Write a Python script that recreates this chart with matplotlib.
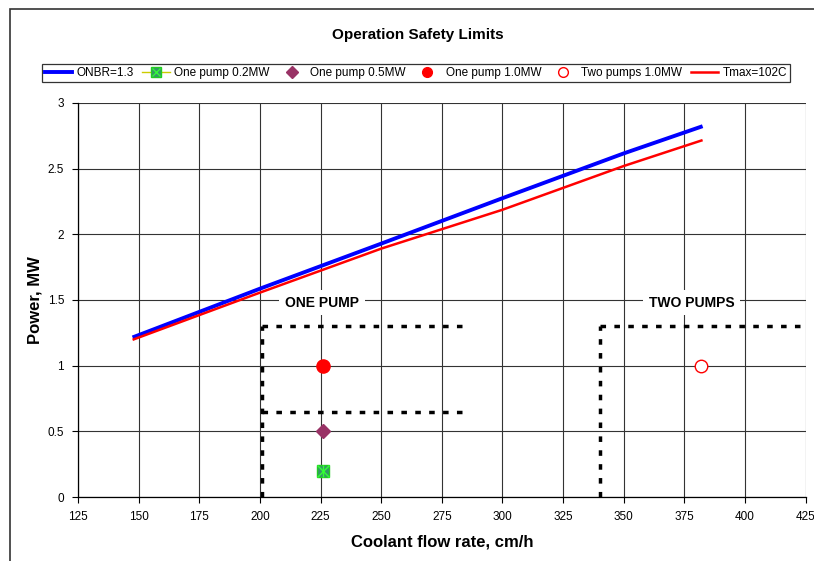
import matplotlib
matplotlib.use("Agg")
import matplotlib.pyplot as plt
from matplotlib.patches import Rectangle
from matplotlib.legend_handler import HandlerTuple
from matplotlib.lines import Line2D

plt.rcParams['font.family'] = ['Liberation Sans', 'DejaVu Sans']

# Data
onbr_x = [147.5, 200, 250, 300, 350, 382.5]
onbr_y = [1.215, 1.586, 1.929, 2.275, 2.616, 2.823]
tmax_x = [147.5, 200, 250, 300, 350, 382.5]
tmax_y = [1.197, 1.556, 1.891, 2.187, 2.520, 2.717]
pump02_x, pump02_y = [226], [0.2]
pump05_x, pump05_y = [226], [0.5]
pump10_x, pump10_y = [226], [1.0]
two10_x, two10_y = [382], [1.0]

one_pump_vx = [201, 201]
one_pump_vy = [0, 1.3]
one_pump_h1x = [201, 284]
one_pump_h1y = [1.3, 1.3]
one_pump_h2x = [201, 284]
one_pump_h2y = [0.65, 0.65]
two_pump_vx = [340, 340]
two_pump_vy = [0, 1.3]
two_pump_hx = [340, 425]
two_pump_hy = [1.3, 1.3]

xticks = list(range(125, 426, 25))
yticks = [0, 0.5, 1, 1.5, 2, 2.5, 3]
ytick_labels = ['0', '0.5', '1', '1.5', '2', '2.5', '3']

fig = plt.figure(figsize=(8.14, 5.61), dpi=100)
ax = fig.add_axes([0.0958, 0.114, 0.894, 0.7025])

# figure border (left and top visible)
fig.patches.append(Rectangle((10/814, -0.1), 1.2, (561-9)/561 + 0.1, transform=fig.transFigure,
                             fill=False, edgecolor='#333333', linewidth=1.2))

ax.set_xlim(125, 425)
ax.set_ylim(0, 3)
ax.set_xticks(xticks)
ax.set_yticks(yticks)
ax.set_yticklabels(ytick_labels)
ax.grid(True, color='#333333', linewidth=0.8)
ax.set_axisbelow(True)
for s in ['top', 'right']:
    ax.spines[s].set_visible(False)
ax.spines['left'].set_linewidth(0.9)
ax.spines['bottom'].set_linewidth(0.9)
ax.tick_params(labelsize=8.5, length=4, direction='out', pad=6)

ax.plot(onbr_x, onbr_y, color='#0000ff', linewidth=2.8, solid_capstyle='butt', zorder=3)
ax.plot(tmax_x, tmax_y, color='#ff0000', linewidth=1.8, solid_capstyle='butt', zorder=3)

dot = dict(color='black', linewidth=2.5, linestyle=(0, (1.6, 2.4)), zorder=2)
ax.plot(one_pump_vx, one_pump_vy, **dot)
ax.plot(one_pump_h1x, one_pump_h1y, **dot)
ax.plot(one_pump_h2x, one_pump_h2y, **dot)
ax.plot(two_pump_vx, two_pump_vy, **dot)
ax.plot(two_pump_hx, two_pump_hy, **dot)

sq, = ax.plot(pump02_x, pump02_y, linestyle='none', marker='s', markersize=9,
              markerfacecolor='#339966', markeredgecolor='#22cc22', zorder=4)
cx, = ax.plot(pump02_x, pump02_y, linestyle='none', marker='x', markersize=8,
              markeredgecolor='#33ff33', markeredgewidth=1.0, zorder=5)
cv, = ax.plot(pump02_x, pump02_y, linestyle='none', marker='|', markersize=9,
              markeredgecolor='#33ff33', markeredgewidth=1.0, zorder=5)
ax.plot(pump05_x, pump05_y, linestyle='none', marker='D', markersize=7,
        color='#993366', zorder=4)
ax.plot(pump10_x, pump10_y, linestyle='none', marker='o', markersize=9.5,
        color='#ff0000', zorder=4)
ax.plot(two10_x, two10_y, linestyle='none', marker='o', markersize=9,
        markerfacecolor='white', markeredgecolor='#ff0000', markeredgewidth=1.0, zorder=4)

ax.text(225.6, 1.48, 'ONE PUMP', ha='center', va='center', fontsize=10, fontweight='bold',
        bbox=dict(facecolor='white', edgecolor='none', pad=4), zorder=6)
ax.text(378, 1.48, 'TWO PUMPS', ha='center', va='center', fontsize=10, fontweight='bold',
        bbox=dict(facecolor='white', edgecolor='none', pad=4), zorder=6)

ax.set_xlabel('Coolant flow rate, cm/h', fontsize=12, fontweight='bold', labelpad=8)
ax.set_ylabel('Power, MW', fontsize=12, fontweight='bold', labelpad=4)
fig.text(418/814, (561-35)/561, 'Operation Safety Limits', ha='center', va='center',
         fontsize=11, fontweight='bold')

# legend
h_onbr = Line2D([], [], color='#0000ff', linewidth=2.8)
h_line = Line2D([], [], color='#cccc00', linewidth=1)
h_sq = Line2D([], [], linestyle='none', marker='s', markersize=7,
              markerfacecolor='#339966', markeredgecolor='#22cc22')
h_x = Line2D([], [], linestyle='none', marker='x', markersize=6,
             markeredgecolor='#33ff33', markeredgewidth=0.9)
h_02 = (h_line, h_sq, h_x)
h_05 = Line2D([], [], linestyle='none', marker='D', markersize=6, color='#993366')
h_10 = Line2D([], [], linestyle='none', marker='o', markersize=7, color='#ff0000')
h_two = Line2D([], [], linestyle='none', marker='o', markersize=7, markerfacecolor='white',
               markeredgecolor='#ff0000')
h_tmax = Line2D([], [], color='#ff0000', linewidth=1.8)
leg = fig.legend([h_onbr, h_02, h_05, h_10, h_two, h_tmax],
                 ['ONBR=1.3', 'One pump 0.2MW', 'One pump 0.5MW', 'One pump 1.0MW',
                  'Two pumps 1.0MW', 'Tmax=102C'],
                 handler_map={tuple: HandlerTuple(ndivide=1, pad=0)},
                 loc='center', bbox_to_anchor=(416/814, (561-73)/561), ncol=6,
                 fontsize=8.5, frameon=True, fancybox=False, edgecolor='black',
                 handlelength=2.3, handletextpad=0.4, columnspacing=0.7,
                 borderpad=0.25, borderaxespad=0)
leg.get_frame().set_linewidth(0.9)

fig.savefig('out.png', dpi=100)
